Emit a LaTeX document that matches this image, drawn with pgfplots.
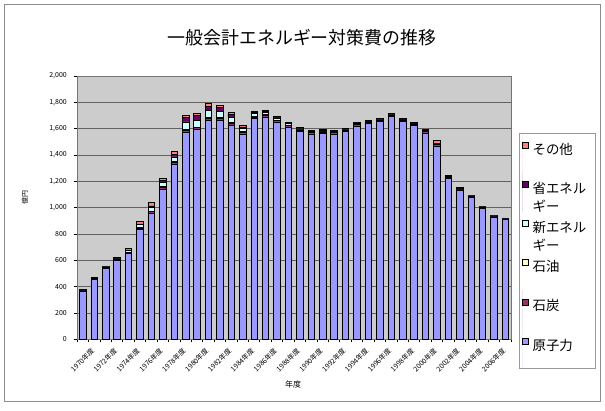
\documentclass[border=0pt]{standalone}
\usepackage{fontspec}
\setmainfont{Noto Sans CJK JP}
\usepackage{pgfplots}
\usepackage{pgfplotstable}
\pgfplotsset{compat=1.18}
\definecolor{genshi}{HTML}{9999FF}
\definecolor{sekitan}{HTML}{993366}
\definecolor{sekiyu}{HTML}{FFFFCC}
\definecolor{shinene}{HTML}{CCFFFF}
\definecolor{shoene}{HTML}{660066}
\definecolor{sonota}{HTML}{FF8080}
\definecolor{plotbg}{RGB}{204,204,204}

\pgfplotstableread{
idx n c o ne s ot
0 368 7 0 0 0 7
1 455 8 0 0 0 8
2 540 8 1 1 0 7
3 601 8 2 2 0 7
4 650 10 4 12 3 12
5 835 12 4 20 6 16
6 957 12 5 30 10 24
7 1141 15 5 32 12 18
8 1331 15 5 35 18 21
9 1576 15 5 55 35 14
10 1594 15 5 50 37 17
11 1665 15 5 52 35 18
12 1665 15 5 45 30 16
13 1627 15 5 40 23 15
14 1561 12 4 25 12 12
15 1678 12 4 20 8 11
16 1690 12 4 18 7 10
17 1652 12 3 15 6 10
18 1614 11 3 10 4 8
19 1577 11 2 8 3 6
20 1560 11 2 7 3 6
21 1565 11 2 7 3 6
22 1560 11 2 7 3 6
23 1578 11 2 6 3 5
24 1622 11 2 5 3 5
25 1640 11 2 5 3 4
26 1653 11 2 5 3 4
27 1692 11 2 4 3 4
28 1655 11 2 4 2 4
29 1625 11 2 4 2 4
30 1568 11 2 4 2 12
31 1470 12 2 4 2 20
32 1220 10 2 3 2 8
33 1135 8 1 2 1 5
34 1080 7 1 1 1 3
35 997 6 1 1 0 2
36 930 5 1 1 0 2
37 915 4 1 1 0 2
}\data

\newcommand{\lgd}[1]{\parbox[t]{60bp}{#1}}

\begin{document}
\begin{tikzpicture}
\useasboundingbox (0bp,0bp) rectangle (605bp,411bp);
\draw[black!45, line width=1bp] (4bp,9.5bp) rectangle (600.5bp,406bp);
\draw[black!40, line width=0.6bp, fill=white] (519bp,43bp) rectangle (595.5bp,278bp);
\node[font=\fontsize{18}{20}\selectfont] at (302bp,373bp) {一般会計エネルギー対策費の推移};
\begin{axis}[
  at={(77bp,71.7bp)}, anchor=south west,
  scale only axis, width=434bp, height=263.3bp,
  ybar stacked, bar width=6.5bp,
  xmin=-0.5, xmax=37.5, ymin=0, ymax=2000,
  xtick={-0.5,0.5,...,37.5}, xticklabels={},
  extra x ticks={0,2,...,36},
  extra x tick labels={1970年度,1972年度,1974年度,1976年度,1978年度,1980年度,1982年度,1984年度,1986年度,1988年度,1990年度,1992年度,1994年度,1996年度,1998年度,2000年度,2002年度,2004年度,2006年度},
  extra x tick style={major tick length=0pt},
  ytick={0,200,...,2000},
  ymajorgrids, grid style={draw=black!62, line width=0.6bp},
  axis background/.style={fill=plotbg},
  axis line style={draw=black!55, line width=0.6bp},
  tick align=outside, tick pos=left, major tick length=3bp,
  tick style={draw=black, line width=0.5bp},
  /pgf/number format/assume math mode=true,
  /pgf/number format/1000 sep={,},
  ticklabel style={font=\fontsize{7}{8}\selectfont},
  yticklabel style={inner sep=0pt, xshift=-7bp},
  xticklabel style={rotate=45, anchor=north east, inner sep=0pt, yshift=-11bp, xshift=0bp},
  ylabel={億円},
  ylabel style={at={(axis description cs:-0.12,0.537)}, anchor=center, font=\fontsize{7}{8}\selectfont},
  xlabel={年度},
  xlabel style={at={(axis description cs:0.498,-0.170)}, anchor=center, font=\fontsize{8}{9}\selectfont},
  legend cell align=left,
  legend image code/.code={\path (0bp,-23.8bp) rectangle (0bp,15bp);
    \draw[#1,draw=black,draw opacity=1,line width=0.4bp] (0bp,0.5bp) rectangle (6bp,6.5bp);},
  legend style={at={(axis description cs:1.0184,0.7835)}, anchor=north west,
    draw=none, fill=none, draw opacity=0, inner xsep=3bp, inner ysep=0pt,
    font=\fontsize{13.5}{18}\selectfont, nodes={inner sep=0pt, text depth=0pt}, row sep=0pt,
    /tikz/every odd column/.append style={column sep=4bp}},
]
\addplot[forget plot, fill=genshi, draw=black, line width=0.5bp] table[x=idx,y=n]{\data};
\addplot[forget plot, fill=sekitan, draw=black, line width=0.5bp] table[x=idx,y=c]{\data};
\addplot[forget plot, fill=sekiyu, draw=black, line width=0.5bp] table[x=idx,y=o]{\data};
\addplot[forget plot, fill=shinene, draw=black, line width=0.5bp] table[x=idx,y=ne]{\data};
\addplot[forget plot, fill=shoene, draw=black, line width=0.5bp] table[x=idx,y=s]{\data};
\addplot[forget plot, fill=sonota, draw=black, line width=0.5bp] table[x=idx,y=ot]{\data};
\addlegendimage{fill=sonota}
\addlegendentry{\lgd{その他}}
\addlegendimage{fill=shoene}
\addlegendentry{\lgd{省エネル\\ギー}}
\addlegendimage{fill=shinene}
\addlegendentry{\lgd{新エネル\\ギー}}
\addlegendimage{fill=sekiyu}
\addlegendentry{\lgd{石油}}
\addlegendimage{fill=sekitan}
\addlegendentry{\lgd{石炭}}
\addlegendimage{fill=genshi}
\addlegendentry{\lgd{原子力}}
\end{axis}
\end{tikzpicture}
\end{document}
